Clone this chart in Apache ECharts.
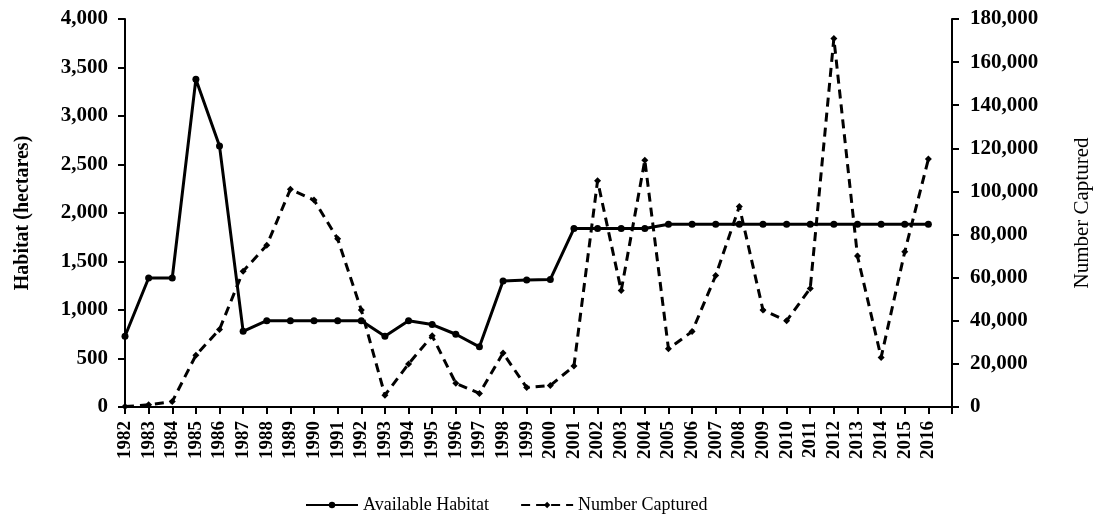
<!DOCTYPE html>
<html>
<head>
<meta charset="utf-8">
<script src="https://cdn.jsdelivr.net/npm/echarts@6/dist/echarts.min.js"></script>
<style>
	html, body { margin: 0; padding: 0; background: #fff; }
	#chart { width: 1096px; height: 523px; }
</style>
</head>
<body>
<div id="chart"></div>
<script>
	'use strict';

	// years (last slot is empty, like the source axis)
	var years = ['1982', '1983', '1984', '1985', '1986', '1987', '1988', '1989', '1990', '1991',
		'1992', '1993', '1994', '1995', '1996', '1997', '1998', '1999', '2000', '2001',
		'2002', '2003', '2004', '2005', '2006', '2007', '2008', '2009', '2010', '2011',
		'2012', '2013', '2014', '2015', '2016', ''];

	var habitat = [730, 1330, 1330, 3380, 2690, 780, 890, 890, 890, 890,
		890, 730, 890, 850, 750, 620, 1300, 1310, 1315, 1840,
		1840, 1840, 1840, 1885, 1885, 1885, 1885, 1885, 1885, 1885,
		1885, 1885, 1885, 1885, 1885, null];

	var captured = [200, 1000, 2500, 24000, 36000, 63000, 75000, 101000, 96000, 78000,
		45000, 5500, 20000, 33000, 11000, 6300, 25000, 9000, 10000, 19000,
		105000, 54000, 114500, 27000, 35000, 61000, 93000, 45000, 40000, 55000,
		171000, 70000, 23000, 72000, 115000, null];

	var fontFam = '"Liberation Serif", "Times New Roman", serif';
	var axisColor = '#000';

	function fmt(v) {
		return Number(v).toLocaleString('en-US');
	}

	var chart = echarts.init(document.getElementById('chart'));
	var option = {
		animation: false,
		backgroundColor: '#fff',
		grid: {
			top: 19,
			left: 125,
			right: 144,
			bottom: 116,
			containLabel: false,
			outerBoundsMode: 'none'
		},
		legend: {
			bottom: 4,
			left: 300,
			itemWidth: 52,
			itemHeight: 8,
			itemGap: 31,
			textStyle: {
				fontFamily: fontFam,
				fontSize: 18,
				color: '#000'
			},
			data: ['Available Habitat', 'Number Captured']
		},
		xAxis: {
			type: 'category',
			data: years,
			boundaryGap: false,
			axisLine: { lineStyle: { color: axisColor, width: 2 } },
			axisTick: { length: 7, interval: 0, lineStyle: { color: axisColor, width: 2 } },
			axisLabel: {
				interval: 0,
				rotate: 90,
				margin: 14,
				color: '#000',
				fontFamily: fontFam,
				fontWeight: 'bold',
				fontSize: 19
			}
		},
		yAxis: [
			{
				type: 'value',
				min: 0,
				max: 4000,
				interval: 500,
				name: 'Habitat (hectares)',
				nameLocation: 'middle',
				nameGap: 92,
				nameRotate: 90,
				nameTextStyle: {
					fontFamily: fontFam,
					fontWeight: 'bold',
					fontSize: 20,
					color: '#000'
				},
				axisLine: { show: true, lineStyle: { color: axisColor, width: 2 } },
				axisTick: { show: true, length: 7, lineStyle: { color: axisColor, width: 2 } },
				splitLine: { show: false },
				axisLabel: {
					margin: 17,
					formatter: fmt,
					color: '#000',
					fontFamily: fontFam,
					fontWeight: 'bold',
					fontSize: 21
				}
			},
			{
				type: 'value',
				position: 'right',
				min: 0,
				max: 180000,
				interval: 20000,
				name: 'Number Captured',
				nameLocation: 'middle',
				nameGap: 120,
				nameRotate: 90,
				nameTextStyle: {
					fontFamily: fontFam,
					fontSize: 21,
					color: '#000'
				},
				axisLine: { show: true, lineStyle: { color: axisColor, width: 2 } },
				axisTick: { show: true, length: 7, lineStyle: { color: axisColor, width: 2 } },
				splitLine: { show: false },
				axisLabel: {
					margin: 18,
					formatter: fmt,
					color: '#000',
					fontFamily: fontFam,
					fontWeight: 'bold',
					fontSize: 21
				}
			}
		],
		series: [
			{
				name: 'Available Habitat',
				type: 'line',
				yAxisIndex: 0,
				data: habitat,
				symbol: 'circle',
				symbolSize: 7,
				color: '#000',
				lineStyle: { color: '#000', width: 3 },
				itemStyle: { color: '#000' }
			},
			{
				name: 'Number Captured',
				type: 'line',
				yAxisIndex: 1,
				data: captured,
				symbol: 'diamond',
				symbolSize: 7,
				color: '#000',
				lineStyle: { color: '#000', width: 3, type: [9, 6] },
				itemStyle: { color: '#000' }
			}
		]
	};
	chart.setOption(option);
	window.addEventListener('resize', function() {
		chart.resize();
	});
</script>
</body>
</html>
